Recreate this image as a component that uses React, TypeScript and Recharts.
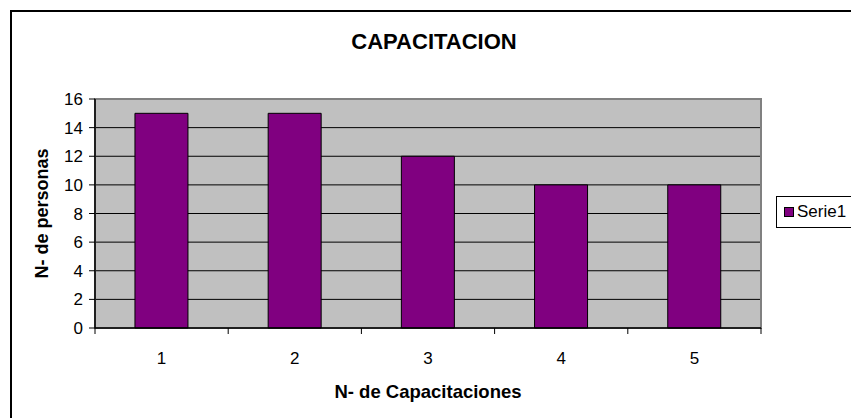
import {
  BarChart,
  Bar,
  XAxis,
  YAxis,
  CartesianGrid,
  Legend,
  ReferenceArea,
} from 'recharts'

const categories = ['1', '2', '3', '4', '5']
const serie1 = [15, 15, 12, 10, 10]
const yTicks = [0, 2, 4, 6, 8, 10, 12, 14, 16]
const gridValues = [2, 4, 6, 8, 10, 12, 14]

const data = categories.map((c, i) => ({ cat: c, serie1: serie1[i] }))

const FONT = '"Liberation Sans", Arial, sans-serif'
const PLOT_LEFT = 95
const PLOT_RIGHT = 761
const HALF_BAND = (PLOT_RIGHT - PLOT_LEFT) / categories.length / 2

function XTick(props: any) {
  const { x, y, payload, index, visibleTicksCount } = props
  const half = payload.offset || HALF_BAND
  const axisY = y - 6
  return (
    <g>
      <line x1={x - half} x2={x - half} y1={axisY} y2={axisY + 6} stroke="#000" />
      {index === visibleTicksCount - 1 && (
        <line x1={x + half} x2={x + half} y1={axisY} y2={axisY + 6} stroke="#000" />
      )}
      <text x={x} y={y} dy={30} textAnchor="middle" fontSize={17} fill="#000" fontFamily={FONT}>
        {payload.value}
      </text>
    </g>
  )
}

function LegendBox() {
  return (
    <div
      style={{
        boxSizing: 'border-box',
        width: 75,
        height: 32,
        borderTop: '1px solid #000',
        borderLeft: '1px solid #000',
        borderBottom: '1px solid #000',
        background: '#fff',
        display: 'flex',
        alignItems: 'center',
        paddingLeft: 7,
        fontFamily: FONT,
        fontSize: 17,
        color: '#000',
        whiteSpace: 'nowrap',
        overflow: 'hidden',
      }}
    >
      <span
        style={{
          display: 'inline-block',
          width: 8,
          height: 8,
          background: '#800080',
          border: '1px solid #000',
          marginRight: 3,
        }}
      />
      Serie1
    </div>
  )
}

export default function App() {
  return (
    <div style={{ position: 'fixed', left: 0, top: 0, width: 851, height: 418, background: '#fff' }}>
      <div
        style={{
          position: 'absolute',
          left: 10,
          top: 10,
          width: 841,
          height: 408,
          borderTop: '2px solid #000',
          borderLeft: '2px solid #000',
          boxSizing: 'border-box',
        }}
      />
      <div
        style={{
          position: 'absolute',
          left: 334,
          top: 29,
          width: 200,
          textAlign: 'center',
          fontFamily: FONT,
          fontWeight: 'bold',
          fontSize: 22,
          lineHeight: '26px',
        }}
      >
        CAPACITACION
      </div>
      <div style={{ position: 'absolute', left: 0, top: 0 }}>
        <BarChart
          width={851}
          height={418}
          data={data}
          margin={{ top: 99, right: 15, left: 0, bottom: 20 }}
          barCategoryGap="30%"
        >
          <CartesianGrid
            vertical={false}
            stroke="#000"
            fill="#C0C0C0"
            fillOpacity={1}
            horizontalValues={gridValues}
          />
          <XAxis
            dataKey="cat"
            height={70}
            tickLine={false}
            tickSize={6}
            tickMargin={0}
            axisLine={{ stroke: '#000', strokeWidth: 1.5 }}
            tick={<XTick />}
            interval={0}
            label={{
              value: 'N- de Capacitaciones',
              position: 'insideBottom',
              offset: 0,
              fontFamily: FONT,
              fontWeight: 'bold',
              fontSize: 18.5,
              fill: '#000',
            }}
          />
          <YAxis
            width={95}
            domain={[0, 16]}
            ticks={yTicks}
            interval={0}
            tickSize={6}
            tickMargin={6}
            tickLine={{ stroke: '#000' }}
            axisLine={{ stroke: '#000', strokeWidth: 1.5 }}
            tick={{ fontSize: 17, fill: '#000', fontFamily: FONT }}
            label={{
              value: 'N- de personas',
              angle: -90,
              position: 'center',
              dx: -6,
              fontFamily: FONT,
              fontWeight: 'bold',
              fontSize: 18,
              fill: '#000',
            }}
          />
          <ReferenceArea y1={0} y2={16} fill="none" stroke="#808080" strokeWidth={2} />
          <Legend
            layout="vertical"
            align="right"
            verticalAlign="top"
            content={<LegendBox />}
            wrapperStyle={{ top: 196, right: 0, width: 75 }}
          />
          <Bar
            dataKey="serie1"
            name="Serie1"
            fill="#800080"
            stroke="#000"
            strokeWidth={1}
            isAnimationActive={false}
          />
        </BarChart>
      </div>
    </div>
  )
}
